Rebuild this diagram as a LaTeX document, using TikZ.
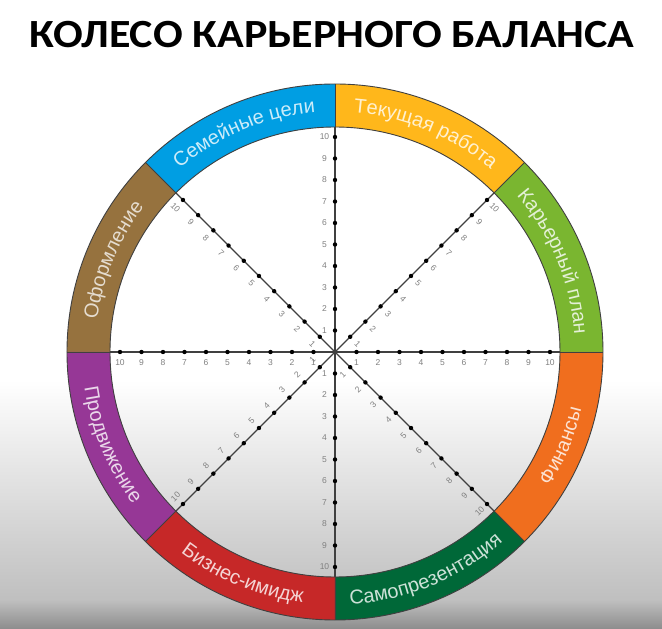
\documentclass[tikz,border=0pt]{standalone}
\usepackage{fontspec}
\usetikzlibrary{calc, decorations.text}
\newfontfamily\titlefont{Carlito}
\newfontfamily\segfont{Liberation Sans}
\definecolor{famblue}{HTML}{009EE3}
\definecolor{workgold}{HTML}{FFB71B}
\definecolor{plangreen}{HTML}{7AB630}
\definecolor{finorange}{HTML}{F06E1E}
\definecolor{presgreen}{HTML}{006838}
\definecolor{imagered}{HTML}{C62828}
\definecolor{promopurple}{HTML}{963796}
\definecolor{designbrown}{HTML}{96723E}

\begin{document}
\begin{tikzpicture}[x=1pt, y=1pt,
  ring/.style={draw=black!75, line width=0.9pt},
  axis/.style={draw=black!75, line width=1.2pt},
  dot/.style={fill=black, circle, inner sep=0pt, minimum size=4.4pt},
  tick/.style={font=\segfont\fontsize{8.5}{9}\selectfont, text=black!50, inner sep=0pt},
  seglabel/.style 2 args={decorate, decoration={text along path, text align=center,
              text color=#1, text={|\segfont\fontsize{20}{20}\selectfont|#2}}}
]
% background
\fill[white] (-335,-28) rectangle (327,352);
\shade[top color=white, bottom color=black!25] (-335,-248) rectangle (327,-28);
\shade[top color=black!25, bottom color=black!45] (-335,-277) rectangle (327,-248);
\useasboundingbox (-335,-277) rectangle (327,352);

\node[font=\titlefont\bfseries\fontsize{40}{40}\selectfont, xscale=1.1, anchor=base] (title) at (-3,304)
  {КОЛЕСО КАРЬЕРНОГО БАЛАНСА};

% coloured ring
\foreach \a/\col in {0/plangreen, 45/workgold, 90/famblue, 135/designbrown,
                     180/promopurple, 225/imagered, 270/presgreen, 315/finorange}
  \fill[\col] (\a:225pt) arc[start angle=\a, end angle=\a+45, radius=225pt]
    -- ({\a+45}:268pt) arc[start angle=\a+45, end angle=\a, radius=268pt] -- cycle;
\draw[ring] (0,0) circle[radius=268pt];
\draw[ring] (0,0) circle[radius=225pt];
\foreach \a in {0,45,...,315}
  \draw[ring] (\a:225pt) -- (\a:268pt);

% segment names
\path[seglabel={famblue!20!white}{Семейные цели}] (135:240pt) arc[start angle=135, end angle=90, radius=240pt];
\path[seglabel={workgold!20!white}{Текущая работа}] (90:240pt) arc[start angle=90, end angle=45, radius=240pt];
\path[seglabel={plangreen!20!white}{Карьерный план}] (45:240pt) arc[start angle=45, end angle=0, radius=240pt];
\path[seglabel={designbrown!25!white}{Оформление}] (180:240pt) arc[start angle=180, end angle=135, radius=240pt];
\path[seglabel={finorange!20!white}{Финансы}] (-45:253pt) arc[start angle=-45, end angle=0, radius=253pt];
\path[seglabel={presgreen!20!white}{Самопрезентация}] (-90:253pt) arc[start angle=-90, end angle=-45, radius=253pt];
\path[seglabel={imagered!20!white}{Бизнес-имидж}] (-135:253pt) arc[start angle=-135, end angle=-90, radius=253pt];
\path[seglabel={promopurple!20!white}{Продвижение}] (180:253pt) arc[start angle=180, end angle=225, radius=253pt];

% scales
\coordinate (c) at (0,0);
\foreach \a in {0,45,...,315}
  \draw[axis] (c) -- (\a:225pt);
\foreach \a/\o/\r in {0/270/0, 45/315/-45, 90/180/0, 135/225/-45,
                      180/270/0, 225/135/45, 270/180/0, 315/225/45}
  \foreach \i in {1,...,10} {
    \node[dot] (d\a-\i) at (\a:{\i*21.5}) {};
    \node[tick, rotate=\r] (t\a-\i) at ($(d\a-\i)+(\o:10.5)$) {\i};
  }
\end{tikzpicture}
\end{document}
